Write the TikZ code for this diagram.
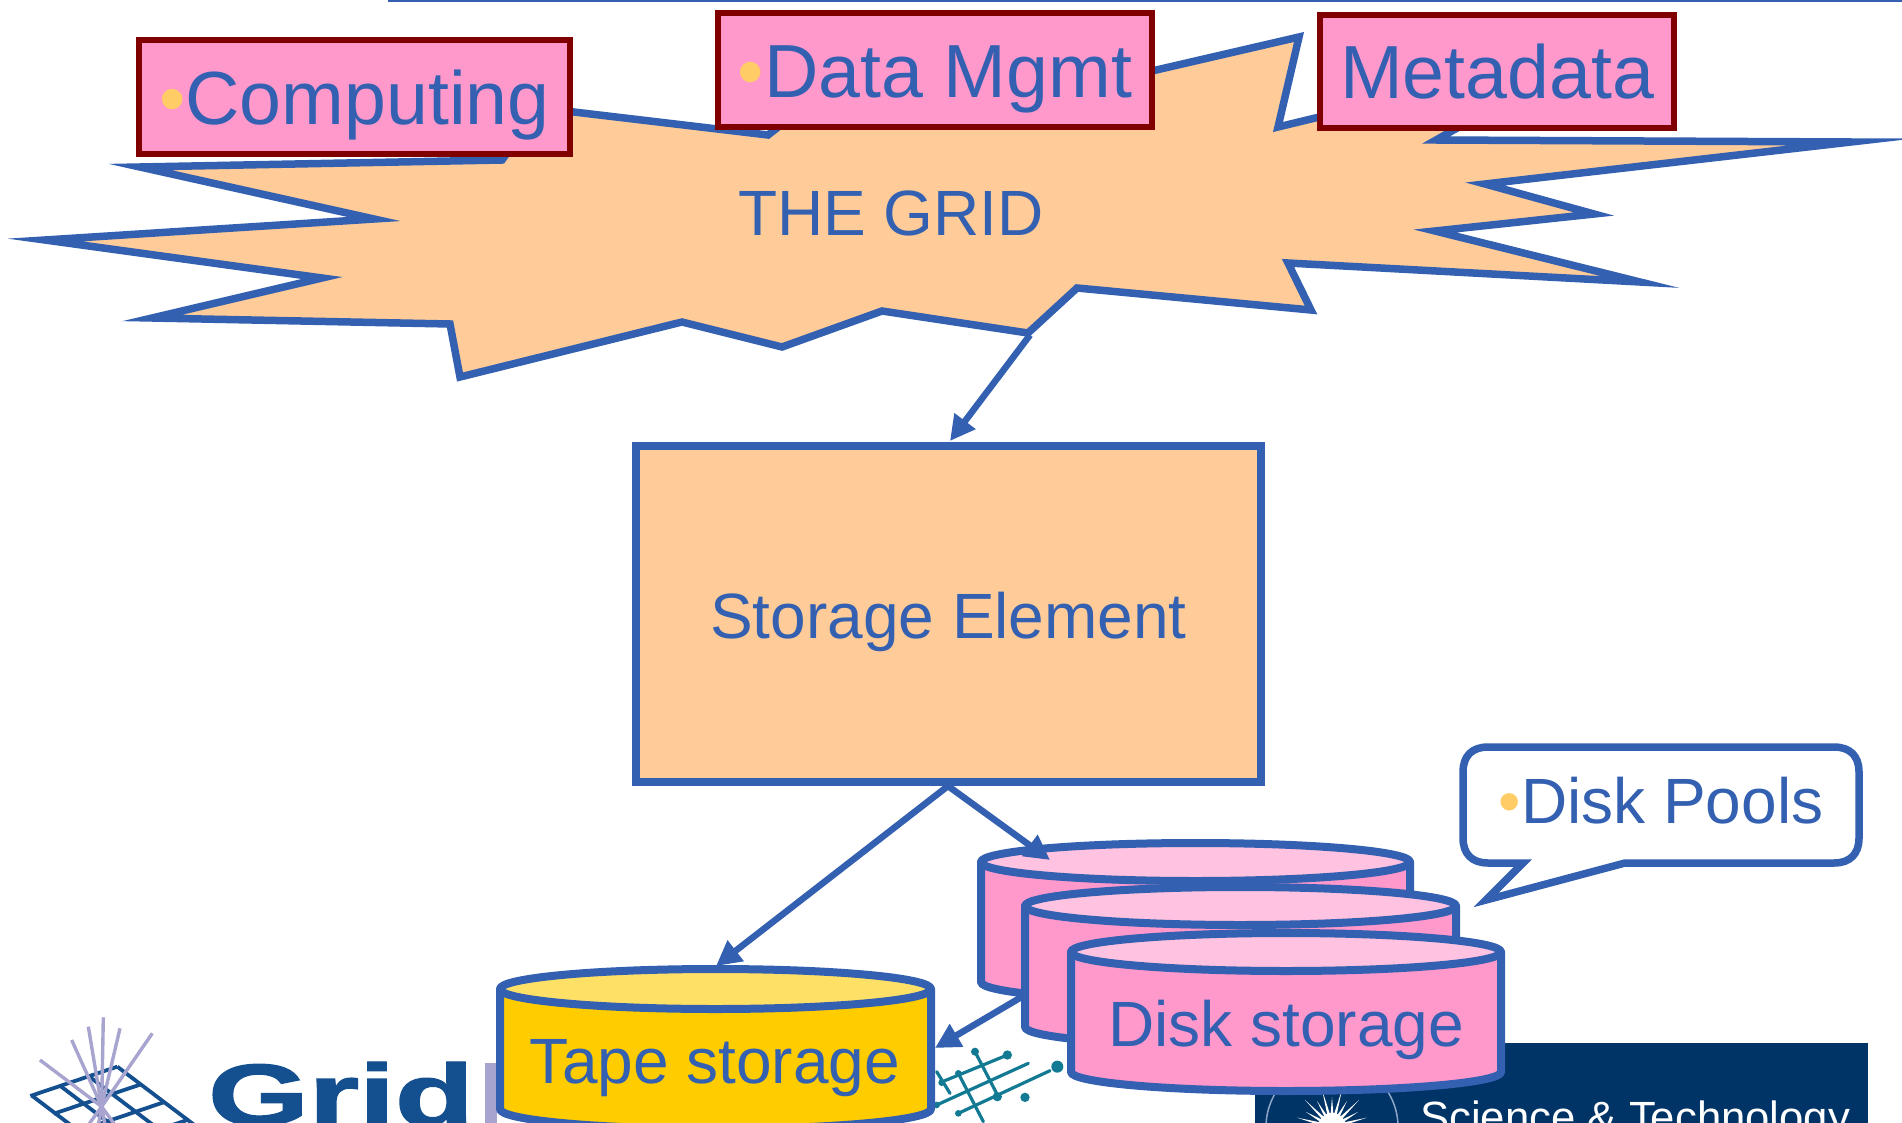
\documentclass[tikz,border=0pt]{standalone}
\usepackage{fontspec}
\setmainfont{Liberation Sans}
\newfontfamily\gridfont[FakeBold=1.6]{Liberation Sans Bold}
\usetikzlibrary{arrows.meta}
\definecolor{lineblue}{HTML}{3360B0}
\definecolor{peach}{HTML}{FFCC99}
\definecolor{pinkbody}{HTML}{FF99CC}
\definecolor{pinktop}{HTML}{FFC2E0}
\definecolor{yellowbody}{HTML}{FFCC00}
\definecolor{yellowtop}{HTML}{FFE066}
\definecolor{darkred}{HTML}{800000}
\definecolor{bulletc}{HTML}{FFCC66}
\definecolor{navy}{HTML}{003366}
\definecolor{gridblue}{HTML}{14508F}
\definecolor{lav}{HTML}{A8A4D0}
\definecolor{teal}{HTML}{137A94}
\definecolor{ringc}{HTML}{8FA6C8}
\newcommand{\bigtxt}{\fontsize{75.3}{80}\selectfont}
\newcommand{\midtxt}{\fontsize{64}{70}\selectfont}
\newcommand{\blt}{\textcolor{bulletc}{•}}
% x1, x2, y of top centre, y where the side ends, ry, body fill, top fill
\newcommand{\cylshape}[7]{%
  \pgfmathsetmacro{\xm}{(#1+#2)/2}%
  \pgfmathsetmacro{\rx}{(#2-#1)/2}%
  \pgfmathsetmacro{\ya}{#4+0.55*#5}%
  \pgfmathsetmacro{\yb}{#4+#5}%
  \pgfmathsetmacro{\xa}{\xm-0.55*\rx}%
  \pgfmathsetmacro{\xb}{\xm+0.55*\rx}%
  \draw[cylline,fill=#6] (#1,#3) -- (#1,#4) .. controls (#1,\ya) and (\xa,\yb) .. (\xm,\yb)
     .. controls (\xb,\yb) and (#2,\ya) .. (#2,#4) -- (#2,#3) -- cycle;
  \draw[cylline,fill=#7] (\xm,#3) ellipse [x radius=\rx, y radius=#5];
}
\tikzset{
  cylline/.style={draw=lineblue,line width=8pt,line join=round},
  labelbox/.style={draw=darkred,line width=6.5pt,fill=pinkbody,text=lineblue,font=\bigtxt,inner sep=0pt,line join=miter},
  baseoff/.style={text height=\dimexpr40pt+#1pt\relax,text depth=\dimexpr40pt-#1pt\relax},
  midlabel/.style={text=lineblue,font=\midtxt,inner sep=0pt,anchor=base},
  conn/.style={draw=lineblue,line width=6.5pt,-{Triangle[length=25pt,width=25pt]},shorten >=0pt},
}
\begin{document}
\begin{tikzpicture}[x=1pt,y=-1pt]
\useasboundingbox (0,0) rectangle (1902,1123);
\clip (0,0) rectangle (1902,1123);
\fill[white] (0,0) rectangle (1902,1123);

% rule at the top edge
\draw[lineblue,line width=3pt] (388,1) -- (1902,1);

% the grid burst
\draw[draw=lineblue,fill=peach,line width=7.5pt,miter limit=40,line join=miter]
  (140,167) -- (502,160) -- (540,108) -- (768,135) -- (800,110) -- (1100,83) -- (1299,37)
  -- (1278,127) -- (1340,112) -- (1480,115) -- (1436,140) -- (1851,142) -- (1485,184)
  -- (1594,214) -- (1435,231) -- (1640,282) -- (1288,263) -- (1311,310) -- (1077,288)
  -- (1028,333) -- (882,311) -- (782,347) -- (682,322) -- (460,377) -- (450,324)
  -- (152,318) -- (322,278) -- (45,240) -- (374,219) -- cycle;
\coordinate (burstfoot) at (1030,335);
\node[midlabel] (gridlabel) at (891,236) {THE GRID};

% boxes on the burst
\node[labelbox,minimum width=431pt,minimum height=114pt,baseoff=28] (computing) at (354.5,97) {\blt Computing};
\node[labelbox,minimum width=434pt,minimum height=114pt,baseoff=28] (datamgmt) at (935,70) {\blt Data Mgmt};
\node[labelbox,minimum width=354pt,minimum height=113pt,baseoff=27.5] (metadata) at (1497,71.5) {Metadata};

% storage element
\node[draw=lineblue,fill=peach,line width=8pt,minimum width=625pt,minimum height=336pt,inner sep=0pt,
      text=lineblue,font=\midtxt,baseoff=24] (storage) at (948.5,614) {Storage Element};
\coordinate (storagetop) at (950,441);
\draw[conn] (burstfoot) -- (storagetop);

% GridPP logo
\begin{scope}[shift={(20,1010)},x=0.3333pt,y=-0.3333pt]
  \foreach \i in {0,1,2,3}{
    \draw[gridblue,line width=3.8pt] ({292-85*\i},{170+29.3*\i}) -- ({292-85*\i+280},{170+29.3*\i+212});
    \draw[gridblue,line width=3.8pt] ({292+70*\i},{170+53.3*\i}) -- ({292+70*\i-261},{170+53.3*\i+88});
  }
  \foreach \tx/\ty in {250/22,205/50,300/55,155/90,397/70,60/150}{
    \draw[lav,line width=3.4pt] (\tx,\ty) -- (245,290);
  }
  \foreach \tx in {205,235,255,285}{
    \draw[lav,line width=3.4pt] (245,290) -- (\tx,345);
  }
\end{scope}
\node[anchor=base west,inner sep=0pt,text=gridblue,font=\gridfont\fontsize{87}{90}\selectfont] (gridpp) at (208,1125)
  {\scalebox{1.486}[1]{Grid}};
\fill[lav] (485,1063) rectangle (497,1123);

% net logo
\begin{scope}[shift={(920,1040)},x=0.3333pt,y=-0.3333pt]
  \foreach \ax/\ay/\bx/\by in {165/35/235/170,115/100/190/245,50/95/90/160,60/128/262/45,50/195/325/70,115/220/390/92}{
    \draw[teal,line width=3.2pt,line cap=round] (\ax,\ay) -- (\bx,\by);
  }
  \foreach \dx/\dy/\dr in {165/35/12,262/45/14,412/80/18,315/172/14,232/170/14,115/100/10,65/128/10,115/220/10,50/195/10}{
    \fill[teal] (\dx,\dy) circle (\dr);
  }
\end{scope}

% science and technology banner
\fill[navy] (1255,1043) rectangle (1868,1123);
\begin{scope}[shift={(1332,1127)}]
  \draw[ringc,line width=1.5pt] (0,0) circle (66);
  \foreach \a/\l in {15/36,30/30,45/38,60/30,75/38,90/30,105/38,120/30,135/38,150/30,165/36}{
    \fill[white] (-\a-7:12) -- (-\a:\l) -- (-\a+7:12) -- cycle;
  }
  \fill[white] (0,0) circle (14);
\end{scope}
\node[anchor=base west,inner sep=0pt,text=white,font=\fontsize{43.7}{46}\selectfont] (stfc) at (1420,1132) {Science \& Technology};

% storage cylinders
\cylshape{981}{1410}{862}{982}{19}{pinkbody}{pinktop}
\coordinate (disktop) at (1050,860);
\coordinate (storagefoot) at (948,786);
\cylshape{500}{931}{989}{1109}{20}{yellowbody}{yellowtop}
\coordinate (tapetop) at (716,966);
\coordinate (tapeside) at (935,1048);
\coordinate (diskside) at (1030,992);
\draw[conn] (storagefoot) -- (tapetop);
\draw[conn] (storagefoot) -- (disktop);
\draw[conn] (diskside) -- (tapeside);
\cylshape{1025}{1456}{906}{1027}{19}{pinkbody}{pinktop}
\cylshape{1071}{1501}{952}{1072}{19}{pinkbody}{pinktop}
\node[midlabel] (tapelabel) at (715,1083) {Tape storage};
\node[midlabel] (disklabel) at (1286,1046) {Disk storage};

% callout
\draw[draw=lineblue,fill=white,line width=7.5pt,line join=miter,miter limit=20]
  (1488,747) -- (1834,747) .. controls (1850,747) and (1859,756) .. (1859,772)
  -- (1859,838) .. controls (1859,854) and (1850,863) .. (1834,863)
  -- (1625,863) -- (1486,900) -- (1523,863) -- (1488,863)
  .. controls (1472,863) and (1463,854) .. (1463,838)
  -- (1463,772) .. controls (1463,756) and (1472,747) .. (1488,747) -- cycle;
\node[midlabel] (poolslabel) at (1661,823) {\blt Disk Pools};
\end{tikzpicture}
\end{document}
